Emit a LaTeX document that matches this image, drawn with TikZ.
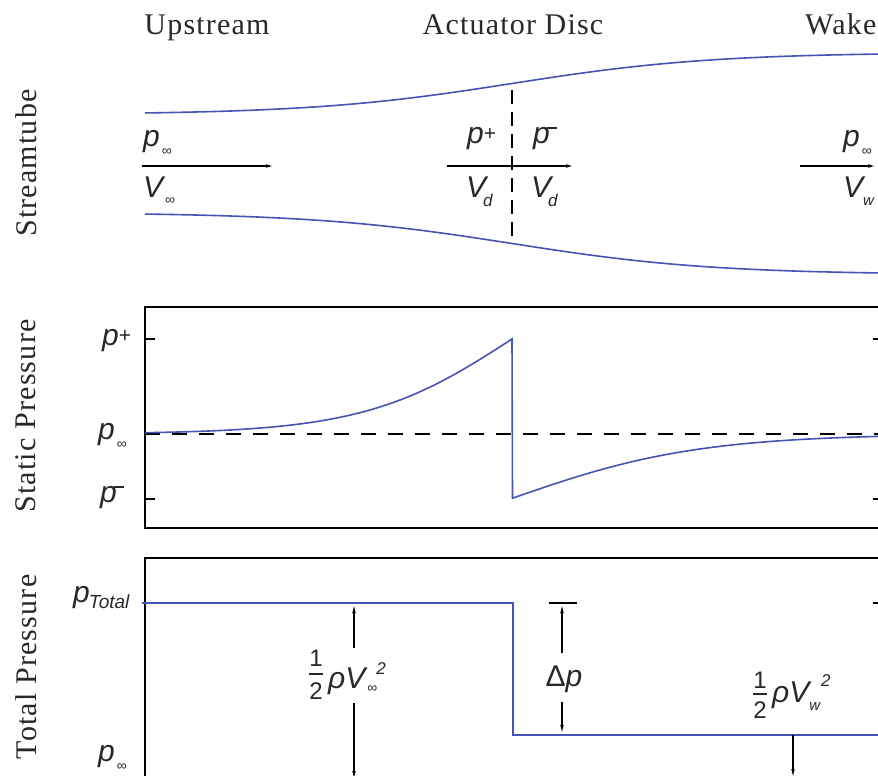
\documentclass[tikz,border=0pt]{standalone}
\usepackage{fontspec}
\setmainfont{Liberation Serif}
\newfontfamily\titlefam{Liberation Serif}[LetterSpace=4]
\newfontfamily\labfam{Liberation Sans}
\usetikzlibrary{arrows.meta}
\definecolor{curveblue}{RGB}{70,84,180}
\definecolor{ink}{RGB}{40,40,40}
\newcommand\titlesize{\fontsize{30}{34}\selectfont}
\newcommand\labsize{\fontsize{30}{34}\selectfont\labfam\itshape}
\newcommand\infsub[1][9pt]{\kern2pt\raisebox{-#1}{\fontsize{14}{14}\selectfont\upshape ∞}}
\newcommand\supplus{\raisebox{3pt}{\fontsize{21}{21}\selectfont\upshape +}}
\newcommand\supminus{\kern-3pt\raisebox{14pt}{\rule{10pt}{1.6pt}}}
\newcommand\smallsub[2]{\raisebox{-#1}{\fontsize{17}{17}\selectfont #2}}
\begin{document}
\begin{tikzpicture}[x=1pt,y=-1pt,
  title/.style={font=\titlefam\titlesize, text=ink, inner sep=0pt, anchor=base},
  lab/.style={font=\labsize, text=ink, inner sep=0pt, anchor=base west},
  digit/.style={font=\labfam\fontsize{24}{26}\selectfont, text=ink, inner sep=0pt},
  tube/.style={curveblue, line width=1.6pt},
  axisbox/.style={line width=2pt, black},
  tickmark/.style={line width=1.5pt, black},
  flowarrow/.style={line width=1.6pt, black, -{Latex[length=10pt,width=3.5pt]}},
  dimarrow/.style={line width=1.5pt, black, -{Latex[length=10pt,width=3.5pt]}},
  discdash/.style={line width=1.8pt, black, dash pattern=on 14pt off 8pt},
  levdash/.style={line width=2pt, black, dash pattern=on 15pt off 12pt},
  fracbar/.style={line width=2.6pt, ink}]
\useasboundingbox (0,0) rectangle (878,776);
\fill[white] (0,0) rectangle (878,776);
\clip (0,0) rectangle (878,776);

% titles
\node[title] (up) at (207,35) {Upstream};
\node[title] (ad) at (513,35) {Actuator Disc};
\node[title, anchor=base west] (wk) at (805,35) {Wake};
\node[title, anchor=center, rotate=90] (st) at (26,163) {Streamtube};
\node[title, anchor=center, rotate=90] (sp) at (26,416) {Static Pressure};
\node[title, anchor=center, rotate=90] (tp) at (26,667) {Total Pressure};

% ---------------- streamtube ----------------
\draw[tube] plot[domain=145:878, samples=120] (\x, {163.5-(80+31*tanh((\x-512)/200))});
\draw[tube] plot[domain=145:878, samples=120] (\x, {163.5+(80+31*tanh((\x-512)/200))});
\coordinate (discT) at (512,90);
\coordinate (discB) at (512,242);
\draw[discdash] (discT) -- (discB);

\coordinate (f1a) at (142,166); \coordinate (f1b) at (276,166);
\coordinate (f2a) at (447,166); \coordinate (f2b) at (576,166);
\coordinate (f3a) at (800,166); \coordinate (f3b) at (878,166);
\draw[flowarrow] (f1a) -- (f1b);
\draw[flowarrow] (f2a) -- (f2b);
\draw[flowarrow] (f3a) -- (f3b);

\node[lab] (pinfL) at (143,146) {p\infsub};
\node[lab] (vinfL) at (143,197) {V\infsub[7pt]};
\node[lab] (pplusD) at (467,143) {p\supplus};
\node[lab] (pminusD) at (533,143) {p\supminus};
\node[lab] (vdL) at (466,197) {V\kern-3pt\smallsub{9pt}{d}};
\node[lab] (vdR) at (531,197) {V\kern-3pt\smallsub{9pt}{d}};
\node[lab] (pinfR) at (843,146) {p\infsub};
\node[lab] (vwR) at (843,197) {V\raisebox{-8pt}{\fontsize{15}{15}\selectfont w}};

% ---------------- static pressure ----------------
\draw[axisbox] (145,307) rectangle (895,528);
\draw[tickmark] (145,339) -- (155,339);
\draw[tickmark] (145,499) -- (155,499);
\draw[tickmark] (873,339) -- (878,339);
\draw[tickmark] (873,499) -- (878,499);
\draw[levdash] (145,434) -- (878,434);
\draw[tube] plot[domain=145:512, samples=80] (\x, {434-95*(1-tanh((512-\x)/147))})
  -- (512.5,498)
  -- plot[domain=513:878, samples=80] (\x, {434+64*(1-tanh((\x-513)/185))});

\node[lab] (spplus) at (102,345) {p\supplus};
\node[lab] (spinf) at (98,439) {p\infsub};
\node[lab] (spminus) at (100,502) {p\supminus};

% ---------------- total pressure ----------------
\draw[axisbox] (145,558) rectangle (895,800);
\draw[tube] (142,603) -- (513,603) -- (513,735) -- (880,735);
\draw[tickmark] (873,603) -- (878,603);

\node[lab] (ptot) at (73,602) {p\kern-1pt\raisebox{-6pt}{\fontsize{19}{19}\selectfont Total}};
\node[lab] (tpinf) at (98,761) {p\infsub};

% dimension 1/2 rho Vinf^2
\coordinate (d1a) at (354,648); \coordinate (d1top) at (354,603);
\coordinate (d1b) at (354,703); \coordinate (d1bot) at (354,781);
\draw[dimarrow] (d1a) -- (d1top);
\draw[dimarrow] (d1b) -- (d1bot);
\node[digit] (d1num) at (316,658.5) {1};
\node[digit] (d1den) at (316,691.5) {2};
\draw[fracbar] (309,674) -- (323,674);
\node[lab] (d1txt) at (328,688) {ρV\infsub[4pt]\kern-1pt\raisebox{14pt}{\fontsize{17}{17}\selectfont 2}};

% delta p
\draw[tickmark] (549,603) -- (577,603);
\coordinate (dpa) at (562,653); \coordinate (dptop) at (562,603);
\coordinate (dpb) at (562,702); \coordinate (dpbot) at (562,735);
\draw[dimarrow] (dpa) -- (dptop);
\draw[dimarrow] (dpb) -- (dpbot);
\node[lab, anchor=center] (dp) at (564,679) {\upshape Δ\itshape p};

% dimension 1/2 rho Vw^2
\coordinate (d3top) at (793,735); \coordinate (d3bot) at (793,779);
\draw[dimarrow] (d3top) -- (d3bot);
\node[digit] (d3num) at (760,680) {1};
\node[digit] (d3den) at (760,710) {2};
\draw[fracbar] (753,694) -- (767,694);
\node[lab] (d3txt) at (772,702) {ρV\raisebox{-8pt}{\fontsize{15}{15}\selectfont w}\kern1pt\raisebox{16pt}{\fontsize{17}{17}\selectfont 2}};
\end{tikzpicture}
\end{document}
